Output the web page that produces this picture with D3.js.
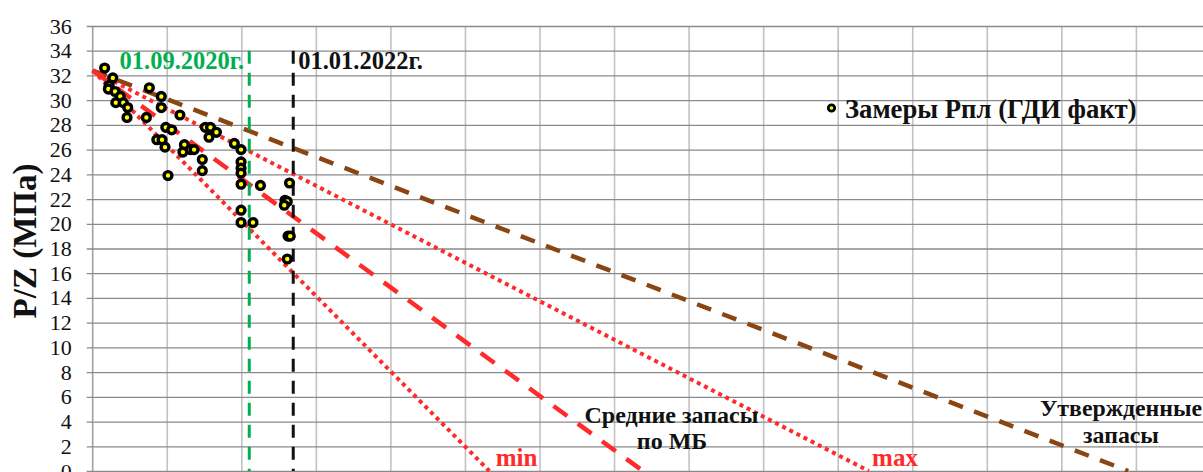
<!DOCTYPE html>
<html><head><meta charset="utf-8">
<script src="https://cdn.jsdelivr.net/npm/d3@7"></script>
<style>
html,body{margin:0;padding:0;background:#fff;overflow:hidden;}
svg text{font-family:"Liberation Serif","Times New Roman",Times,"DejaVu Serif",serif !important;}
</style></head>
<body>
<svg id="chart" width="1203" height="472"></svg>
<script>
// ---- data ----
const yTicks = [0,2,4,6,8,10,12,14,16,18,20,22,24,26,28,30,32,34,36];
const xGrid = [0,1,2,3,4,5,6,7,8,9,10,11,12,13,14];
// measured P/Z points (x in grid units of cumulative production)
const measX = [0.16,0.27,0.22,0.21,0.30,0.37,0.31,0.41,0.47,0.46,0.76,0.92,0.92,0.72,1.17,0.98,1.06,0.86,0.93,0.97,1.01,1.23,1.21,1.31,1.36,1.47,1.47,1.51,1.58,1.66,1.56,1.90,1.99,1.99,1.99,1.99,1.99,1.99,1.99,2.15,2.25,2.64,2.58,2.61,2.57,2.62,2.65,2.61];
const measY = [32.6,31.8,31.2,30.9,30.7,30.3,29.8,29.8,29.4,28.6,31.0,30.3,29.4,28.6,28.8,27.8,27.6,26.8,26.8,26.2,23.9,26.4,25.8,26.0,26.0,25.2,24.3,27.8,27.8,27.4,27.0,26.5,26.0,25.0,24.5,24.1,23.2,21.1,20.1,20.1,23.1,23.3,21.9,21.8,21.5,19.0,19.0,17.15];
// reserve lines: common start value at x=0 and the x where P/Z reaches 0
const lineNames = ["Утвержденные запасы","max","Средние запасы по МБ","min"];
const lineStartY = 32.4;
const lineEndX = [13.89, 10.41, 7.38, 5.32];
// date markers
const dateLabels = ["01.09.2020г.","01.01.2022г."];
const dateX = [2.10, 2.69];
const dateTop = 34;
const legendLabel = "Замеры Рпл (ГДИ факт)";
const yTitle = "P/Z (МПа)";

// ---- layout ----
const svg = d3.select("#chart");
const x = d3.scaleLinear().domain([0,15]).range([92.7, 92.7+15*74.55]);
const y = d3.scaleLinear().domain([0,36]).range([471, 26]);

// vertical grid
svg.append("g").selectAll("line").data(xGrid).join("line")
  .attr("x1", d=>x(d)).attr("x2", d=>x(d)).attr("y1", y(36)).attr("y2", y(0))
  .attr("stroke", d=> d===0 ? "#a0a0a0" : "#c2c2c2").attr("stroke-width", 1.6);

// horizontal grid + y axis
const yAxis = d3.axisLeft(y).tickValues(yTicks).tickSize(6).tickPadding(15).tickFormat(d3.format("d"));
const gy = svg.append("g").attr("transform", `translate(${x(0)},0)`).call(yAxis);
gy.attr("font-family", null);
gy.select(".domain").remove();
gy.selectAll(".tick line").attr("stroke","#8a8a8a").attr("x2", x(15)-x(0)).attr("x1",-6).attr("stroke-width",1.3);
gy.selectAll(".tick text").attr("font-size",22).attr("fill","#111");

// y title
svg.append("text").attr("transform","translate(35.5,241) rotate(-90)")
  .attr("text-anchor","middle").attr("font-size",33).attr("font-weight","bold").attr("fill","#111")
  .text(yTitle);

// reserve lines
const lineStyles = [
  {stroke:"#8B4513", width:4.5, dash:"15,12", cap:"butt"},
  {stroke:"#ff2a2a", width:4, dash:"4,4", cap:"butt"},
  {stroke:"#ff2a2a", width:4.5, dash:"17,13", cap:"butt"},
  {stroke:"#ff2a2a", width:4, dash:"4,4", cap:"butt"}
];
const lineGen = d3.line().x(d=>x(d[0])).y(d=>y(d[1]));
lineNames.forEach((n,i)=>{
  svg.append("path").attr("d", lineGen([[0,lineStartY],[lineEndX[i],0]]))
    .attr("fill","none").attr("stroke",lineStyles[i].stroke).attr("stroke-width",lineStyles[i].width)
    .attr("stroke-dasharray",lineStyles[i].dash).attr("stroke-linecap",lineStyles[i].cap);
});

// date lines
const dateColors = ["#00b050","#111111"];
dateX.forEach((d,i)=>{
  svg.append("line").attr("x1",x(d)).attr("x2",x(d)).attr("y1",y(dateTop)).attr("y2",y(0))
    .attr("stroke",dateColors[i]).attr("stroke-width",3).attr("stroke-dasharray","13,9");
});
svg.append("text").attr("x", x(dateX[0])-5).attr("y",69).attr("text-anchor","end")
  .attr("font-size",24.5).attr("font-weight","bold").attr("fill",dateColors[0]).text(dateLabels[0]);
svg.append("text").attr("x", x(dateX[1])+5).attr("y",69).attr("text-anchor","start")
  .attr("font-size",24.5).attr("font-weight","bold").attr("fill",dateColors[1]).text(dateLabels[1]);

// points
svg.append("g").selectAll("circle").data(measX.map((d,i)=>[d,measY[i]])).join("circle")
  .attr("cx", d=>x(d[0])).attr("cy", d=>y(d[1])).attr("r",3.9)
  .attr("fill","#ffff00").attr("stroke","#000").attr("stroke-width",3.4);

// legend
svg.append("circle").attr("cx",831.5).attr("cy",108).attr("r",3.2).attr("fill","#ffff00").attr("stroke","#000").attr("stroke-width",2.8);
svg.append("text").attr("x",845).attr("y",118).attr("font-size",26.7).attr("font-weight","bold").attr("fill","#111").text(legendLabel);

// line labels
const lbl = (t,xx,yy,c,fs)=>svg.append("text").attr("x",xx).attr("y",yy).attr("text-anchor","middle")
  .attr("font-size",fs).attr("font-weight","bold").attr("fill",c).text(t);
lbl("Средние запасы", 671.5, 422.5, "#111", 24);
lbl("по МБ", 672, 449, "#111", 24);
lbl(lineNames[3], 516.5, 465.5, "#ff2a2a", 25);
lbl(lineNames[1], 895, 465.5, "#ff2a2a", 25);
lbl("Утвержденные", 1121, 416, "#111", 23.8);
lbl("запасы", 1121, 442.5, "#111", 23.8);
</script>
</body></html>
